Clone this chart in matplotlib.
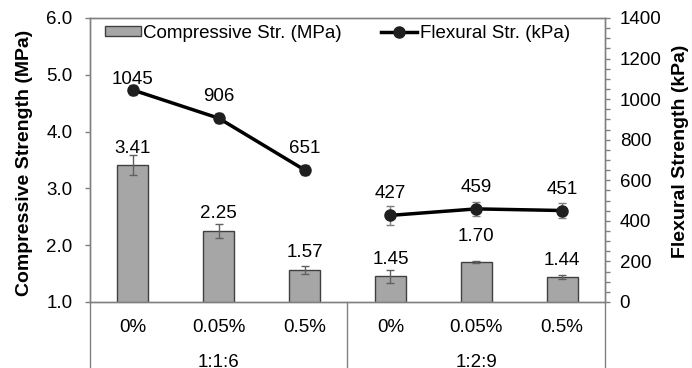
import numpy as np
import matplotlib.pyplot as plt
from matplotlib.ticker import MultipleLocator
from matplotlib.transforms import blended_transform_factory

plt.rcParams['font.family'] = ['Liberation Sans', 'DejaVu Sans']

# dados
dosagens = ['0%', '0.05%', '0.5%', '0%', '0.05%', '0.5%']
tracos = ['1:1:6', '1:2:9']
compressao = [3.41, 2.25, 1.57, 1.45, 1.70, 1.44]
compressao_err = [0.17, 0.12, 0.07, 0.11, 0.02, 0.03]
flexao = [1045, 906, 651, 427, 459, 451]
flexao_err = [25, 25, 25, 48, 33, 36]

# posicao dos rotulos acima de cada ponto (px)
off_barras = [12.5, 12.5, 12.5, 12.5, 21, 12.5]
off_linha = [6, 17, 17, 17, 17, 17]

cor_eixo = '#808080'
fs = 13.5

fig = plt.figure(figsize=(6.92, 3.68), dpi=100)
ax = fig.add_axes([90 / 692, 1 - 302 / 368, 515 / 692, 284 / 368])
ax2 = ax.twinx()

x = np.arange(len(dosagens))

barras = ax.bar(x, compressao, width=0.36, color='#a6a6a6', edgecolor='#404040',
                linewidth=1, label='Compressive Str. (MPa)', zorder=2)
ax.errorbar(x, compressao, yerr=compressao_err, fmt='none', ecolor='#606060',
            elinewidth=1, capsize=3, capthick=1, zorder=3)

for xi, v, off in zip(x, compressao, off_barras):
    ax.annotate(f'{v:.2f}', (xi, v), xytext=(0, off * 0.72), textcoords='offset points',
                ha='center', va='baseline', fontsize=fs)

# linhas separadas por grupo
for g in range(2):
    idx = slice(3 * g, 3 * g + 3)
    ax2.errorbar(x[idx], flexao[idx], yerr=flexao_err[idx], fmt='none', ecolor='#7f7f7f',
                 elinewidth=1, capsize=3, capthick=1, zorder=2)
    linha, = ax2.plot(x[idx], flexao[idx], color='black', linewidth=2.5, marker='o',
                      markersize=8, markerfacecolor='#1f1f1f', markeredgecolor='#1f1f1f',
                      zorder=3, label='Flexural Str. (kPa)')

for xi, v, off in zip(x, flexao, off_linha):
    ax2.annotate(f'{v}', (xi, v), xytext=(0, off * 0.72), textcoords='offset points',
                 ha='center', va='baseline', fontsize=fs)

# eixos
ax.set_xlim(-0.5, len(dosagens) - 0.5)
ax.set_ylim(1, 6)
ax.set_yticks(np.arange(1, 6.1, 1))
ax.set_yticklabels([f'{t:.1f}' for t in np.arange(1, 6.1, 1)])
ax2.set_ylim(0, 1400)
ax2.yaxis.set_major_locator(MultipleLocator(200))
ax2.yaxis.set_minor_locator(MultipleLocator(50))

ax.set_xticks(x)
ax.set_xticklabels(dosagens)
ax.tick_params(axis='x', length=0, pad=12, labelsize=fs)
ax.tick_params(axis='y', direction='out', length=3.6, width=1, color=cor_eixo, pad=9, labelsize=fs)
ax2.tick_params(axis='y', which='major', direction='out', length=3.6, width=1, color=cor_eixo,
                pad=7, labelsize=fs)
ax2.tick_params(axis='y', which='minor', direction='out', length=3.6, width=1, color=cor_eixo)

for a in (ax, ax2):
    for s in a.spines.values():
        s.set_color(cor_eixo)
        s.set_linewidth(1)

ax.set_ylabel('Compressive Strength (MPa)', fontsize=14, fontweight='bold')
ax.yaxis.set_label_coords(-0.111, 0.49)
ax2.set_ylabel('Flexural Strength (kPa)', fontsize=14, fontweight='bold', rotation=90)
ax2.yaxis.set_label_coords(1.13, 0.53)

# eixo de categorias em dois niveis
trans = blended_transform_factory(ax.transData, ax.transAxes)
for xs in [-0.5, 2.5, 5.5]:
    ax.plot([xs, xs], [0, -0.4], transform=trans, color=cor_eixo, linewidth=1, clip_on=False)
for g, nome in enumerate(tracos):
    ax.text(3 * g + 1, -0.2137, nome, transform=trans, ha='center', va='center', fontsize=fs)

# legenda
ax2.legend([barras, linha], ['Compressive Str. (MPa)', 'Flexural Str. (kPa)'],
           loc='upper left', bbox_to_anchor=(0.029, 0.975), ncol=2, frameon=False,
           fontsize=fs, handlelength=1.9, handleheight=0.45, handletextpad=0.15,
           columnspacing=2.1, borderaxespad=0, borderpad=0)

fig.savefig('out.png', dpi=100)
